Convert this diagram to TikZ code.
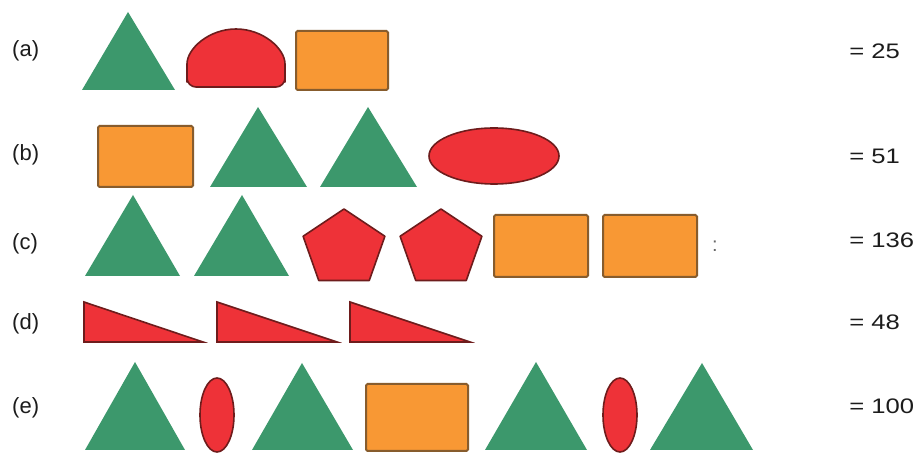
\documentclass[tikz,border=0pt]{standalone}
\usepackage{fontspec}
\setmainfont{Liberation Sans}
\definecolor{tgreen}{RGB}{60,152,108}
\definecolor{tred}{RGB}{238,50,56}
\definecolor{tredline}{RGB}{110,28,28}
\definecolor{torange}{RGB}{248,152,52}
\definecolor{toline}{RGB}{135,92,45}
\definecolor{tgray}{RGB}{28,28,28}
\begin{document}
\begin{tikzpicture}[x=1pt,y=-1pt,
  tri/.style={fill=tgreen},
  redshape/.style={fill=tred, draw=tredline, line width=1.6pt, line join=round},
  orect/.style={fill=torange, draw=toline, line width=2pt, rounded corners=1.5pt},
  lbl/.style={anchor=west, font=\fontsize{22}{26}\selectfont, text=tgray, inner sep=0pt},
  res/.style={lbl, font=\fontsize{21}{25}\selectfont, xscale=1.22}]
\useasboundingbox (0,0) rectangle (922,454);
\fill[white] (0,0) rectangle (922,454);
% labels
\node[lbl] (la) at (12,51) {(a)};
\node[lbl] (lb) at (12,155) {(b)};
\node[lbl] (lc) at (12,244) {(c)};
\node[lbl] (ld) at (12,324) {(d)};
\node[lbl] (le) at (12,408) {(e)};
% results
\node[res] (ra) at (849,51) {= 25};
\node[res] (rb) at (849,156) {= 51};
\node[res] (rc) at (849,240) {= 136};
\node[res] (rd) at (849,322) {= 48};
\node[res] (re) at (849,406) {= 100};
% row a
\fill[tri] (82,90) -- (128,12) -- (175,90) -- cycle;
\draw[redshape, rounded corners=9pt] (187,87) -- (285,87) -- (285,73)
  arc[start angle=0, end angle=-180, x radius=49, y radius=44] -- cycle;
\draw[orect] (296,31) rectangle (388,90);
% row b
\draw[orect] (98,126) rectangle (193,187);
\fill[tri] (210,187) -- (258,107) -- (307,187) -- cycle;
\fill[tri] (320,187) -- (368,107) -- (417,187) -- cycle;
\draw[redshape] (494,156) ellipse[x radius=65, y radius=28];
% row c
\fill[tri] (85,276) -- (133,195) -- (180,276) -- cycle;
\fill[tri] (194,276) -- (242,195) -- (289,276) -- cycle;
\draw[redshape, shift={(344,248.5)}] (-90:43 and 39.5) -- (-18:43 and 39.5) -- (54:43 and 39.5) -- (126:43 and 39.5) -- (198:43 and 39.5) -- cycle;
\draw[redshape, shift={(441,248.5)}] (-90:43 and 39.5) -- (-18:43 and 39.5) -- (54:43 and 39.5) -- (126:43 and 39.5) -- (198:43 and 39.5) -- cycle;
\draw[orect] (494,215) rectangle (588,277);
\draw[orect] (603,215) rectangle (697,277);
\node[text=black!60, font=\fontsize{20}{22}\selectfont, inner sep=0pt] (colon) at (715,246) {:};
% row d
\draw[redshape, line join=miter] (84,302) -- (203,342) -- (84,342) -- cycle;
\draw[redshape, line join=miter] (217,302) -- (337,342) -- (217,342) -- cycle;
\draw[redshape, line join=miter] (350,302) -- (470,342) -- (350,342) -- cycle;
% row e
\fill[tri] (85,450) -- (135,362) -- (185,450) -- cycle;
\draw[redshape] (217,415) ellipse[x radius=17, y radius=37];
\fill[tri] (252,450) -- (302,363) -- (353,450) -- cycle;
\draw[orect] (366,384) rectangle (468,451);
\fill[tri] (485,450) -- (536,362) -- (587,450) -- cycle;
\draw[redshape] (620,415) ellipse[x radius=17, y radius=37];
\fill[tri] (650,450) -- (702,363) -- (753,450) -- cycle;
\end{tikzpicture}
\end{document}
